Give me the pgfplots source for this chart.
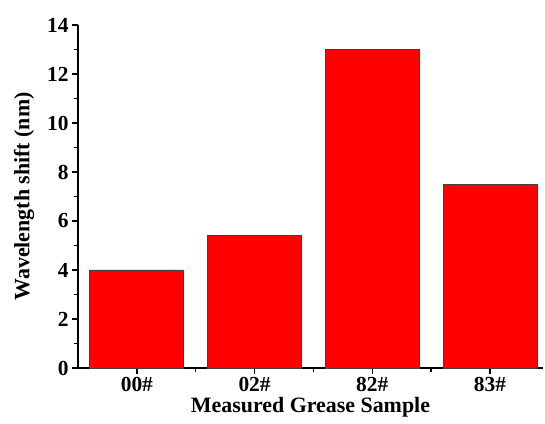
\documentclass[border=0pt]{standalone}
\usepackage{pgfplots}
\pgfplotsset{compat=1.18}
\usepackage{fontspec}
\setmainfont{Liberation Serif}
\begin{document}
\begin{tikzpicture}
\useasboundingbox (-78bp,-56bp) rectangle (467bp,368bp);
\begin{axis}[
  at={(0,0)}, anchor=south west,
  scale only axis,
  width=465bp, height=343bp,
  xmin=0.5, xmax=4.45,
  ymin=0, ymax=14,
  axis x line=bottom, axis y line=left,
  axis line style={-, line width=1.6bp},
  tick align=outside,
  major tick length=6bp, minor tick length=4bp,
  tick style={line width=1.4bp, black},
  xtick={1,2,3,4},
  xticklabels={00\#,02\#,82\#,83\#},
  minor xtick={1.5,2.5,3.5},
  ytick={0,2,4,6,8,10,12,14},
  minor ytick={1,3,5,7,9,11,13},
  /pgf/number format/assume math mode=true,
  tick label style={font=\bfseries\fontsize{21.5}{21.5}\selectfont},
  label style={font=\bfseries\fontsize{22}{22}\selectfont},
  xlabel={Measured Grease Sample},
  ylabel={Wavelength shift (nm)},
  xlabel style={yshift=2bp},
  ylabel style={yshift=6bp},
  ybar, bar width=94bp,
  clip=false,
]
\addplot[fill=red, draw=black!75, line width=0.8bp] coordinates {(1,4) (2,5.4) (3,13) (4,7.5)};
\end{axis}
\end{tikzpicture}
\end{document}
